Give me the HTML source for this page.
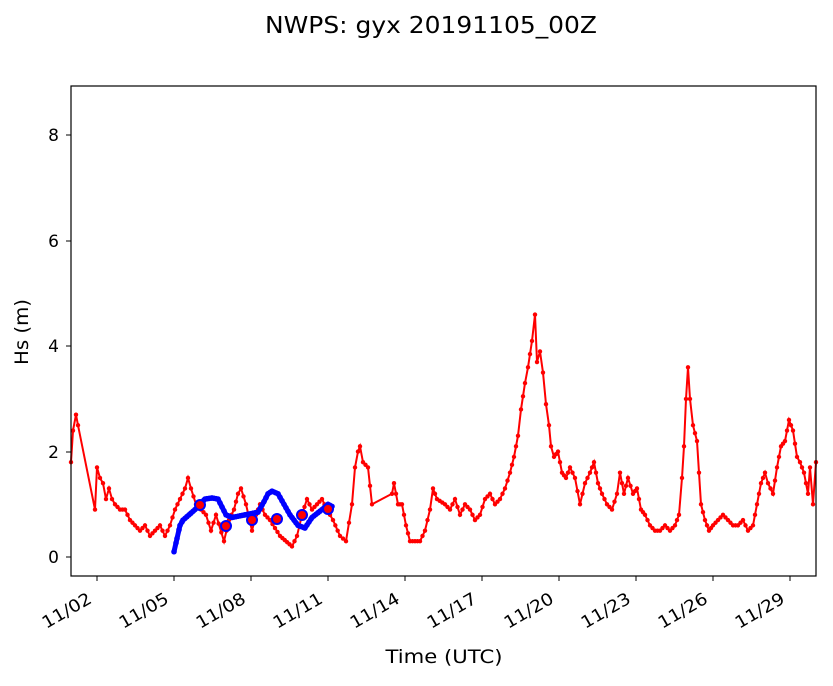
<!DOCTYPE html>
<html><head><style>body{margin:0;background:#fff}</style></head><body>
<svg id="s" width="833" height="681" xmlns="http://www.w3.org/2000/svg" font-family="DejaVu Sans, Liberation Sans, sans-serif">
<rect width="833" height="681" fill="#fff"/>
<text x="431" y="33" font-size="23" text-anchor="middle" textLength="332" lengthAdjust="spacingAndGlyphs">NWPS: gyx 20191105_00Z</text>
<g id="plot"></g>
<rect x="71" y="86" width="745" height="490" fill="none" stroke="#000" stroke-width="1.2"/>
<g font-size="17" text-anchor="end">
<line x1="66" x2="71" y1="557" y2="557" stroke="#000"/><text x="59" y="563">0</text>
<line x1="66" x2="71" y1="452" y2="452" stroke="#000"/><text x="59" y="458">2</text>
<line x1="66" x2="71" y1="346" y2="346" stroke="#000"/><text x="59" y="352">4</text>
<line x1="66" x2="71" y1="241" y2="241" stroke="#000"/><text x="59" y="247">6</text>
<line x1="66" x2="71" y1="135" y2="135" stroke="#000"/><text x="59" y="141">8</text>
</g>
<text transform="translate(28,332) rotate(-90)" font-size="19" text-anchor="middle" textLength="66" lengthAdjust="spacingAndGlyphs">Hs (m)</text>
<text x="444" y="663" font-size="19" text-anchor="middle" textLength="117" lengthAdjust="spacingAndGlyphs">Time (UTC)</text>
<g id="xt" font-size="17"></g>
</svg>
<script>
const ns="http://www.w3.org/2000/svg";
function el(t,a,p){const e=document.createElementNS(ns,t);for(const k in a)e.setAttribute(k,a[k]);p.appendChild(e);return e;}
const Y=v=>557-52.7*v;
const xt=document.getElementById('xt');
const labs=['11/02','11/05','11/08','11/11','11/14','11/17','11/20','11/23','11/26','11/29'];
labs.forEach((l,i)=>{const x=97+i*77;el('line',{x1:x,x2:x,y1:576,y2:581,stroke:'#000'},xt);
const t=el('text',{transform:`translate(${x-4},${602}) rotate(-30)`,'text-anchor':'end',textLength:54,lengthAdjust:'spacingAndGlyphs'},xt);t.textContent=l;});
const red=`71:1.8,73:2.4,76:2.7,78:2.5,95:0.9,97:1.7,100:1.5,103:1.4,106:1.1,109:1.3,112:1.1,115:1.0,120:0.9,125:0.9,130:0.7,135:0.6,140:0.5,145:0.6,150:0.4,155:0.5,160:0.6,165:0.4,170:0.6,175:0.9,180:1.1,185:1.3,188:1.5,191:1.3,196:1.0,201:0.9,206:0.8,211:0.5,216:0.8,224:0.3,229:0.7,234:0.9,238:1.2,241:1.3,246:1.0,252:0.5,256:0.8,260:1.0,265:0.8,270:0.7,280:0.4,292:0.2,297:0.4,302:0.8,307:1.1,312:0.9,317:1.0,322:1.1,327:0.9,333:0.7,340:0.4,346:0.3,352:1.0,355:1.7,358:2.0,360:2.1,363:1.8,368:1.7,372:1.0,392:1.2,394:1.4,398:1.0,402:1.0,406:0.6,410:0.3,420:0.3,425:0.5,430:0.9,433:1.3,437:1.1,445:1.0,450:0.9,455:1.1,460:0.8,465:1.0,470:0.9,475:0.7,480:0.8,485:1.1,490:1.2,495:1.0,500:1.1,505:1.3,510:1.6,514:1.9,518:2.3,521:2.8,525:3.3,528:3.6,532:4.1,535:4.6,537:3.7,540:3.9,543:3.5,546:2.9,549:2.5,551:2.1,554:1.9,558:2.0,562:1.6,566:1.5,570:1.7,575:1.5,580:1.0,585:1.4,590:1.6,594:1.8,598:1.4,602:1.2,607:1.0,612:0.9,617:1.2,620:1.6,624:1.2,628:1.5,633:1.2,637:1.3,641:0.9,645:0.8,650:0.6,655:0.5,660:0.5,665:0.6,670:0.5,675:0.6,679:0.8,682:1.5,684:2.1,686:3.0,688:3.6,690:3.0,693:2.5,697:2.2,701:1.0,705:0.7,709:0.5,713:0.6,718:0.7,723:0.8,728:0.7,733:0.6,738:0.6,743:0.7,748:0.5,753:0.6,757:1.0,761:1.4,765:1.6,768:1.4,773:1.2,777:1.7,781:2.1,785:2.2,789:2.6,793:2.4,797:1.9,800:1.8,804:1.6,808:1.2,810:1.7,813:1.0,816:1.8`;
const p=document.getElementById('plot');
const rp=red.split(',').map(s=>s.split(':').map(Number));
let pts=[];for(let i=0;i<rp.length-1;i++){const[a,b]=rp[i],[c,d]=rp[i+1];const n=Math.max(1,Math.round((c-a)/2.5));for(let k=0;k<n;k++){if(c-a>12&&k>0)break;pts.push([a+(c-a)*k/n,b+(d-b)*k/n]);}}pts.push(rp[rp.length-1]);
el('polyline',{points:rp.map(q=>q[0]+','+Y(q[1])).join(' '),fill:'none',stroke:'#f00','stroke-width':2},p);
pts.forEach(q=>el('circle',{cx:q[0],cy:Y(q[1]),r:2.2,fill:'#f00'},p));
const blue=[[174,0.1],[177,0.35],[180,0.6],[183,0.7],[189,0.8],[195,0.9],[200,1.0],[205,1.1],[212,1.12],[218,1.1],[222,0.95],[226,0.8],[232,0.75],[245,0.8],[258,0.85],[264,1.05],[268,1.2],[272,1.25],[278,1.2],[284,1.0],[290,0.8],[298,0.6],[305,0.55],[312,0.75],[322,0.9],[328,1.0],[333,0.95]];
el('polyline',{points:blue.map(q=>q[0]+','+Y(q[1])).join(' '),fill:'none',stroke:'#00f','stroke-width':5,'stroke-linejoin':'round'},p);
for(let i=0;i<blue.length-1;i++){const[a,b]=blue[i],[c,d]=blue[i+1];for(let x=a;x<c;x+=2){const v=b+(d-b)*(x-a)/(c-a);el('circle',{cx:x,cy:Y(v),r:2.8,fill:'#00f'},p);}}
[[200,505],[226,526],[252,520],[277,519],[302,515],[328,509]].forEach(c=>el('circle',{cx:c[0],cy:c[1],r:5,fill:'#f00',stroke:'#00f','stroke-width':2},p));
</script>
</body></html>
